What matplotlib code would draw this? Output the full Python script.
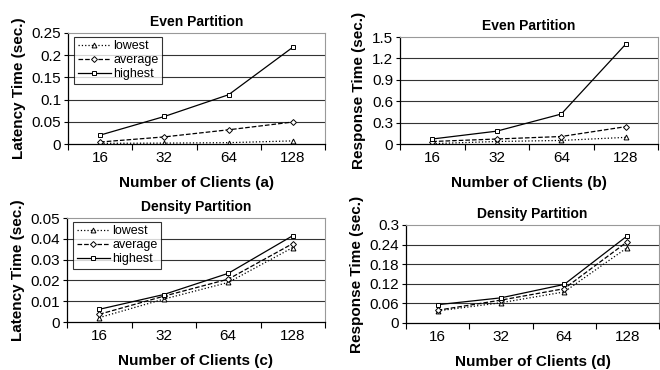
import numpy as np
import matplotlib
matplotlib.use('Agg')
import matplotlib.pyplot as plt

plt.rcParams['font.family'] = ['Liberation Sans', 'DejaVu Sans']

clients = ['16', '32', '64', '128']
series_names = ['lowest', 'average', 'highest']

# (a) latency, even partition
even_lat_low = [0.0015, 0.002, 0.003, 0.007]
even_lat_avg = [0.0045, 0.016, 0.032, 0.0495]
even_lat_high = [0.020, 0.062, 0.111, 0.218]

# (b) response, even partition
even_resp_low = [0.005, 0.035, 0.05, 0.093]
even_resp_avg = [0.035, 0.07, 0.105, 0.243]
even_resp_high = [0.07, 0.18, 0.42, 1.40]

# (c) latency, density partition
dens_lat_low = [0.0021, 0.011, 0.019, 0.0358]
dens_lat_avg = [0.0037, 0.0124, 0.0206, 0.0377]
dens_lat_high = [0.0061, 0.0132, 0.0234, 0.0415]

# (d) response, density partition
dens_resp_low = [0.037, 0.062, 0.095, 0.231]
dens_resp_avg = [0.039, 0.070, 0.105, 0.249]
dens_resp_high = [0.056, 0.077, 0.118, 0.267]

even_lat_ticks = [0, 0.05, 0.1, 0.15, 0.2, 0.25]
even_lat_labels = ['0', '0.05', '0.1', '0.15', '0.2', '0.25']
even_resp_ticks = [0, 0.3, 0.6, 0.9, 1.2, 1.5]
even_resp_labels = ['0', '0.3', '0.6', '0.9', '1.2', '1.5']
dens_lat_ticks = [0, 0.01, 0.02, 0.03, 0.04, 0.05]
dens_lat_labels = ['0', '0.01', '0.02', '0.03', '0.04', '0.05']
dens_resp_ticks = [0, 0.06, 0.12, 0.18, 0.24, 0.3]
dens_resp_labels = ['0', '0.06', '0.12', '0.18', '0.24', '0.3']

styles = [(':', '^', 3.5), ('--', 'D', 3.0), ('-', 's', 3.5)]

fig = plt.figure(figsize=(6.6, 3.7), dpi=100)
W, H = 660., 370.

def make_ax(l, t, r, b):
    return fig.add_axes([l / W, 1 - b / H, (r - l) / W, (b - t) / H])

panels = [
    (make_ax(68, 33, 325, 144), [even_lat_low, even_lat_avg, even_lat_high],
     even_lat_ticks, even_lat_labels, 'Latency Time (sec.)', 'Even Partition', '(a)', True),
    (make_ax(400, 37, 658, 144), [even_resp_low, even_resp_avg, even_resp_high],
     even_resp_ticks, even_resp_labels, 'Response Time (sec.)', 'Even Partition', '(b)', False),
    (make_ax(67, 218, 325, 322), [dens_lat_low, dens_lat_avg, dens_lat_high],
     dens_lat_ticks, dens_lat_labels, 'Latency Time (sec.)', 'Density Partition', '(c)', True),
    (make_ax(406, 225, 659, 323), [dens_resp_low, dens_resp_avg, dens_resp_high],
     dens_resp_ticks, dens_resp_labels, 'Response Time (sec.)', 'Density Partition', '(d)', False),
]

x = np.arange(len(clients)) + 0.5

for ax, data, yt, ylab, ylabel, title, tag, show_leg in panels:
    for vals, name, (ls, mk, ms) in zip(data, series_names, styles):
        ax.plot(x, vals, color='black', linestyle=ls, linewidth=0.9,
                marker=mk, markersize=ms, markerfacecolor='white',
                markeredgecolor='black', markeredgewidth=0.7, label=name)
    ax.set_xlim(0, len(clients))
    ax.set_ylim(yt[0], yt[-1])
    ax.set_yticks(yt)
    ax.set_yticklabels(ylab, fontsize=11)
    ax.set_xticks(np.arange(len(clients) + 1))
    ax.set_xticklabels([])
    ax.set_xticks(x, minor=True)
    ax.set_xticklabels(clients, minor=True, fontsize=11)
    ax.tick_params(axis='x', which='minor', length=0, pad=5)
    ax.tick_params(axis='x', which='major', length=4, width=0.8, direction='out')
    ax.tick_params(axis='y', length=3, width=0.8, pad=2)
    for yv in yt[1:-1]:
        ax.axhline(yv, color='#333333', linewidth=0.8, zorder=0)
    for s in ['top', 'right']:
        ax.spines[s].set_color('#999999')
        ax.spines[s].set_linewidth(0.8)
    for s in ['left', 'bottom']:
        ax.spines[s].set_color('black')
        ax.spines[s].set_linewidth(0.9)
    ax.set_title(title, fontsize=10, fontweight='bold', pad=5)
    ax.set_xlabel('Number of Clients ' + tag, fontsize=11, fontweight='bold', labelpad=8)
    ax.set_ylabel(ylabel, fontsize=11, fontweight='bold', labelpad=4)
    if show_leg:
        leg = ax.legend(loc='upper left', bbox_to_anchor=(0.015, 0.99), fontsize=9,
                        frameon=True, fancybox=False, handlelength=2.6,
                        handletextpad=0.2, borderpad=0.3, labelspacing=0.15,
                        borderaxespad=0.2)
        leg.get_frame().set_edgecolor('black')
        leg.get_frame().set_linewidth(0.8)

fig.savefig('out.png', dpi=100)
